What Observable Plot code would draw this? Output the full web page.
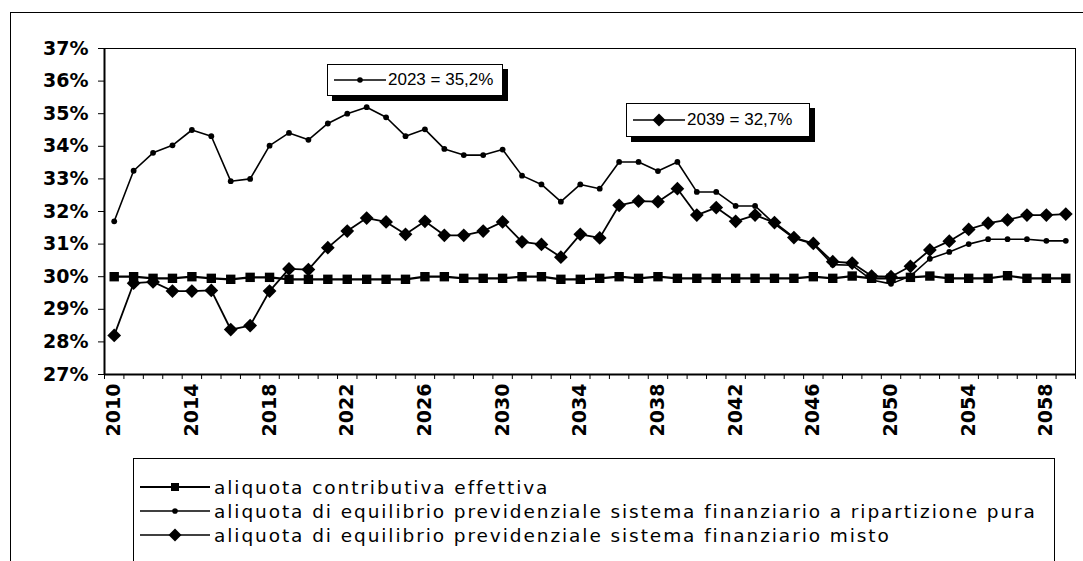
<!DOCTYPE html>
<html><head><meta charset="utf-8">
<script src="https://cdn.jsdelivr.net/npm/d3@7"></script>
<script src="https://cdn.jsdelivr.net/npm/@observablehq/plot@0.6"></script>
<style>
body{margin:0;background:#fff;width:1083px;height:561px;overflow:hidden;position:relative;font-family:"DejaVu Sans",Verdana,sans-serif}
#frame{position:absolute;left:10px;top:12px;width:1100px;height:620px;border:1px solid #000;box-sizing:border-box}
#chart{position:absolute;left:0;top:0}
.note{position:absolute;background:#fff;border:1px solid #000;box-shadow:5px 5px 0 #000;font-family:"Liberation Sans",Arial,sans-serif;font-size:17px;display:flex;align-items:center;box-sizing:border-box}
.note svg{margin:0 2px 0 6px}
#legend{position:absolute;left:133px;top:458px;width:922px;height:140px;border:1.5px solid #000;background:#fff;box-sizing:border-box}
.row{position:absolute;left:6px;height:24px;display:flex;align-items:center;font-size:18.5px;letter-spacing:1.92px;white-space:nowrap}
.row svg{margin-right:4px}
</style></head><body>
<div id="frame"></div>
<div id="chart"></div>
<div class="note" id="n1" style="left:327px;top:64px;width:176px;height:32px"></div>
<div class="note" id="n2" style="left:626px;top:103px;width:184px;height:34px"></div>
<div id="legend"></div>
<script>
const years = d3.range(2010, 2060);
const effettiva = [30.0,30.0,29.95,29.95,30.0,29.95,29.92,29.98,29.98,29.92,
  29.92,29.92,29.92,29.92,29.92,29.92,30.0,30.0,29.95,29.95,
  29.95,30.0,30.0,29.92,29.92,29.95,30.0,29.95,30.0,29.95,
  29.95,29.95,29.95,29.95,29.95,29.95,30.0,29.95,30.02,29.95,
  29.95,29.98,30.02,29.95,29.95,29.95,30.03,29.95,29.95,29.95];
const pura = [31.7,33.25,33.8,34.03,34.5,34.31,32.93,33.0,34.02,34.41,
  34.2,34.7,35.0,35.2,34.89,34.31,34.52,33.92,33.73,33.73,
  33.9,33.1,32.83,32.3,32.83,32.7,33.52,33.52,33.24,33.52,
  32.6,32.6,32.17,32.17,31.62,31.18,31.0,30.37,30.35,29.9,
  29.78,30.02,30.55,30.76,31.0,31.15,31.15,31.15,31.1,31.1];
const misto = [28.2,29.8,29.84,29.56,29.56,29.58,28.38,28.5,29.56,30.24,
  30.22,30.89,31.4,31.8,31.68,31.3,31.7,31.27,31.27,31.4,
  31.68,31.07,30.99,30.6,31.3,31.19,32.19,32.32,32.3,32.7,
  31.89,32.12,31.7,31.89,31.66,31.2,31.02,30.46,30.42,30.02,
  30.0,30.32,30.82,31.09,31.45,31.64,31.74,31.89,31.89,31.92];
const seriesNames = [
  "aliquota contributiva effettiva",
  "aliquota di equilibrio previdenziale sistema finanziario a ripartizione pura",
  "aliquota di equilibrio previdenziale sistema finanziario misto"
];
const yTicks = [27,28,29,30,31,32,33,34,35,36,37];
const xLabelYears = [2010,2014,2018,2022,2026,2030,2034,2038,2042,2046,2050,2054,2058];
const notes = [{year:2023, text:"2023 = 35,2%"}, {year:2039, text:"2039 = 32,7%"}];

const rows = [];
years.forEach((yr,i)=>{
  rows.push({year:yr, v:effettiva[i], s:0});
  rows.push({year:yr, v:pura[i], s:1});
  rows.push({year:yr, v:misto[i], s:2});
});
const sd = k => rows.filter(d=>d.s===k);
const boundaries = d3.range(2009.5, 2060.5, 1);

const chart = Plot.plot({
  width:1083, height:450,
  marginLeft:104, marginRight:8, marginTop:48, marginBottom:76,
  x:{domain:[2009.5,2059.5]},
  y:{domain:[27,37]},
  style:{fontFamily:"'DejaVu Sans', Verdana, sans-serif", color:"#000", background:"transparent", overflow:"visible"},
  marks:[
    Plot.frame({stroke:"#000", strokeWidth:1}),
    Plot.axisY({ticks:yTicks, tickFormat:d=>d+"%", tickSize:6, tickPadding:10, fontSize:19, fontWeight:"bold", label:null}),
    Plot.axisX({ticks:boundaries, tickSize:5, tickFormat:()=>"", label:null}),
    Plot.axisX({ticks:xLabelYears, tickSize:0, tickRotate:-90, tickPadding:9, fontSize:19, fontWeight:"bold", tickFormat:d=>String(d), label:null}),
    Plot.ruleX([2009.5], {strokeWidth:2}),
    Plot.ruleY([27], {strokeWidth:2}),
    Plot.line(sd(0), {x:"year", y:"v", stroke:"#000", strokeWidth:2.2}),
    Plot.line(sd(1), {x:"year", y:"v", stroke:"#000", strokeWidth:1.6}),
    Plot.line(sd(2), {x:"year", y:"v", stroke:"#000", strokeWidth:1.8}),
    Plot.dot(sd(0), {x:"year", y:"v", symbol:"square", r:5.3, fill:"#000", stroke:null}),
    Plot.dot(sd(1), {x:"year", y:"v", r:2.9, fill:"#000", stroke:null}),
    Plot.dot(sd(2), {x:"year", y:"v", symbol:"diamond2", r:6.2, fill:"#000", stroke:null})
  ]
});
document.getElementById("chart").appendChild(chart);

function sample(k, w){
  const ns="http://www.w3.org/2000/svg";
  const svg=document.createElementNS(ns,"svg");
  svg.setAttribute("width",w); svg.setAttribute("height",14);
  const c=w/2;
  let m="";
  if(k===0) m=`<rect x="${c-4}" y="3" width="8" height="8" fill="#000"/>`;
  if(k===1) m=`<circle cx="${c}" cy="7" r="2.8" fill="#000"/>`;
  if(k===2) m=`<path d="M${c},0.5L${c+6.5},7L${c},13.5L${c-6.5},7Z" fill="#000"/>`;
  svg.innerHTML=`<line x1="0" x2="${w}" y1="7" y2="7" stroke="#000" stroke-width="${k===0?2:1.5}"/>`+m;
  return svg;
}
const leg=document.getElementById("legend");
seriesNames.forEach((n,k)=>{
  const r=document.createElement("div");
  r.className="row"; r.style.top=(16+k*24)+"px";
  r.appendChild(sample(k,70));
  const t=document.createElement("span"); t.textContent=n; r.appendChild(t);
  leg.appendChild(r);
});
notes.forEach((n,i)=>{
  const el=document.getElementById("n"+(i+1));
  el.appendChild(sample(i===0?1:2, 52));
  const t=document.createElement("span"); t.textContent=n.text; el.appendChild(t);
});
</script>
</body></html>
